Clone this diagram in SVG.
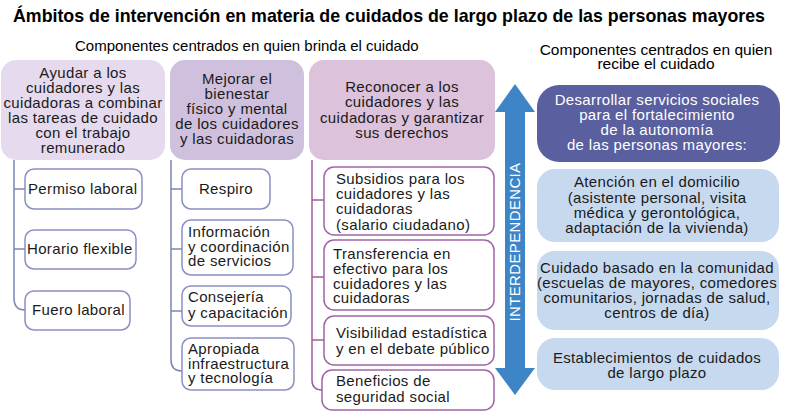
<svg xmlns="http://www.w3.org/2000/svg" width="799" height="416" viewBox="0 0 799 416">
<style>
text{font-family:"Liberation Sans",Arial,sans-serif;font-size:15px;letter-spacing:0.35px;fill:#1a1a1a}
.title{font-size:17.8px;font-weight:bold;letter-spacing:0;fill:#000}
.sub{font-size:15px;letter-spacing:0;fill:#000}
.sub2{font-size:15.5px;letter-spacing:0;fill:#000}
.c{text-anchor:middle}
.w{fill:#fff}
.leafA{fill:#fff;stroke:#8a8fc2;stroke-width:1.5}
.leafB{fill:#fff;stroke:#a063a6;stroke-width:1.5}
.conA{fill:none;stroke:#7d84b8;stroke-width:1.5}
.conB{fill:none;stroke:#9e5fa4;stroke-width:1.5}
.lb{fill:#c6d9ef}
</style>
<rect width="799" height="416" fill="#fff"/>
<text class="title" x="13" y="22">Ámbitos de intervención en materia de cuidados de largo plazo de las personas mayores</text>
<text class="sub" x="75" y="51">Componentes centrados en quien brinda el cuidado</text>
<text class="sub2 c" x="656" y="55">Componentes centrados en quien</text>
<text class="sub2 c" x="656" y="69">recibe el cuidado</text>

<g id="connectors">
<path class="conA" d="M14,160 V298 Q14,310 25,310 M14,189 H25 M14,249 H25"/>
<path class="conA" d="M171,160 V360 Q171,371 182,371 M171,189 H182 M171,249 H182 M171,311 H182"/>
<path class="conB" d="M312,160 V380 Q312,390 322,390 M312,200 H324 M312,277 H324 M312,340 H324"/>
</g>

<g id="arrow">
<polygon points="515,84 535,112 525,112 525,368 535,368 515,395 495,368 505,368 505,112 495,112" fill="#3e85c7"/>
<text class="w c" transform="translate(520,242) rotate(-90)">INTERDEPENDENCIA</text>
</g>

<g id="n-ayudar">
<rect x="1" y="60" width="164" height="100" rx="15" fill="#e6dbee"/>
<text class="c" x="83" y="78">Ayudar a los</text>
<text class="c" x="83" y="93">cuidadores y las</text>
<text class="c" x="83" y="108">cuidadoras a combinar</text>
<text class="c" x="83" y="123">las tareas de cuidado</text>
<text class="c" x="83" y="138">con el trabajo</text>
<text class="c" x="83" y="153">remunerado</text>
</g>
<g id="n-mejorar">
<rect x="170" y="60" width="134" height="100" rx="15" fill="#cfc1de"/>
<text class="c" x="237" y="84">Mejorar el</text>
<text class="c" x="237" y="99">bienestar</text>
<text class="c" x="237" y="114">físico y mental</text>
<text class="c" x="237" y="129">de los cuidadores</text>
<text class="c" x="237" y="144">y las cuidadoras</text>
</g>
<g id="n-reconocer">
<rect x="309" y="60" width="186" height="100" rx="15" fill="#dcc2da"/>
<text class="c" x="402" y="92">Reconocer a los</text>
<text class="c" x="402" y="107">cuidadores y las</text>
<text class="c" x="402" y="123">cuidadoras y garantizar</text>
<text class="c" x="402" y="138">sus derechos</text>
</g>

<g id="n-permiso"><rect class="leafA" x="25" y="169" width="117" height="40" rx="9"/><text x="28" y="194">Permiso laboral</text></g>
<g id="n-horario"><rect class="leafA" x="25" y="230" width="111" height="39" rx="9"/><text x="27" y="254">Horario flexible</text></g>
<g id="n-fuero"><rect class="leafA" x="25" y="291" width="105" height="39" rx="9"/><text x="32" y="315">Fuero laboral</text></g>

<g id="n-respiro"><rect class="leafA" x="182" y="169" width="88" height="40" rx="9"/><text class="c" x="226" y="194">Respiro</text></g>
<g id="n-informacion"><rect class="leafA" x="182" y="220" width="111" height="55" rx="9"/><text x="188" y="237">Información</text><text x="188" y="252">y coordinación</text><text x="188" y="266">de servicios</text></g>
<g id="n-consejeria"><rect class="leafA" x="182" y="286" width="109" height="40" rx="9"/><text x="188" y="302">Consejería</text><text x="188" y="318">y capacitación</text></g>
<g id="n-apropiada"><rect class="leafA" x="182" y="338" width="112" height="52" rx="9"/><text x="188" y="354">Apropiada</text><text x="188" y="369">infraestructura</text><text x="188" y="383">y tecnología</text></g>

<g id="n-subsidios"><rect class="leafB" x="324" y="167" width="170" height="68" rx="10"/><text x="336" y="184">Subsidios para los</text><text x="336" y="199">cuidadores y las</text><text x="336" y="214">cuidadoras</text><text x="336" y="230">(salario ciudadano)</text></g>
<g id="n-transferencia"><rect class="leafB" x="324" y="240" width="170" height="70" rx="10"/><text x="333" y="259">Transferencia en</text><text x="333" y="274">efectivo para los</text><text x="333" y="289">cuidadores y las</text><text x="333" y="303">cuidadoras</text></g>
<g id="n-visibilidad"><rect class="leafB" x="324" y="316" width="170" height="49" rx="10"/><text x="336" y="338">Visibilidad estadística</text><text x="336" y="354">y en el debate público</text></g>
<g id="n-beneficios"><rect class="leafB" x="322" y="370" width="172" height="40" rx="10"/><text x="336" y="386">Beneficios de</text><text x="336" y="402">seguridad social</text></g>

<g id="n-desarrollar">
<rect x="537" y="85" width="243" height="77" rx="22" fill="#5a5f9f"/>
<text class="w c" x="657" y="105">Desarrollar servicios sociales</text>
<text class="w c" x="657" y="120">para el fortalecimiento</text>
<text class="w c" x="657" y="135">de la autonomía</text>
<text class="w c" x="657" y="150">de las personas mayores:</text>
</g>
<g id="n-atencion">
<rect class="lb" x="537" y="169" width="242" height="73" rx="18"/>
<text class="c" x="657" y="187">Atención en el domicilio</text>
<text class="c" x="657" y="203">(asistente personal, visita</text>
<text class="c" x="657" y="218">médica y gerontológica,</text>
<text class="c" x="657" y="233">adaptación de la vivienda)</text>
</g>
<g id="n-comunidad">
<rect class="lb" x="537" y="251" width="242" height="79" rx="18"/>
<text class="c" x="657" y="273">Cuidado basado en la comunidad</text>
<text class="c" x="657" y="288">(escuelas de mayores, comedores</text>
<text class="c" x="657" y="303">comunitarios, jornadas de salud,</text>
<text class="c" x="657" y="318">centros de día)</text>
</g>
<g id="n-establecimientos">
<rect class="lb" x="537" y="338" width="242" height="52" rx="18"/>
<text class="c" x="657" y="363">Establecimientos de cuidados</text>
<text class="c" x="657" y="378">de largo plazo</text>
</g>
</svg>
